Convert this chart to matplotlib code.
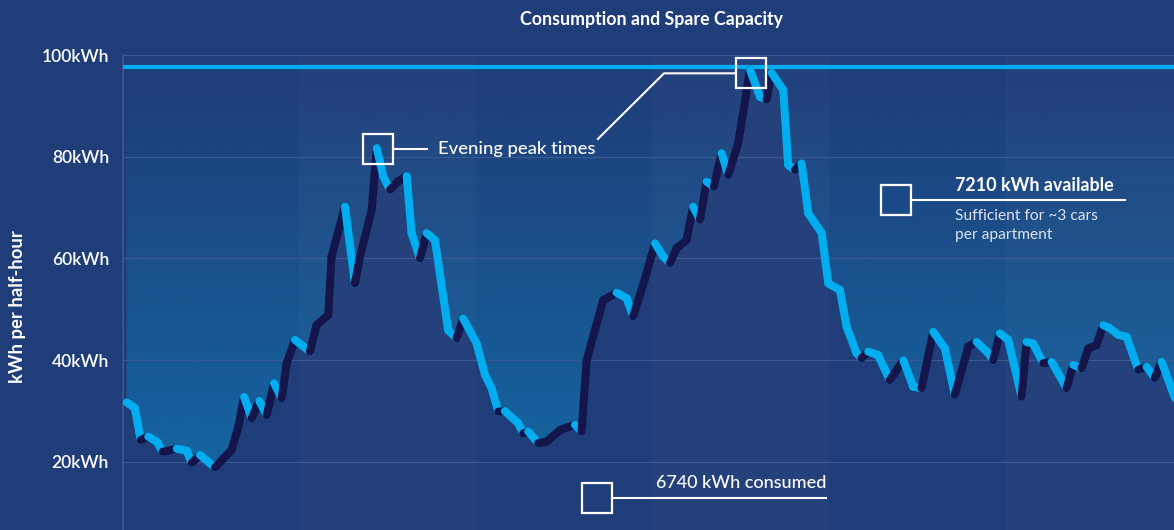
import numpy as np
import matplotlib.pyplot as plt
from matplotlib.patches import Rectangle
from matplotlib.colors import to_rgb

# half-hourly consumption trace, x in hours from start of the window
hours = [0.17, 0.54, 0.80, 1.15, 1.53, 1.80, 2.44, 2.89, 3.12, 3.49,
         4.17, 4.93, 5.23, 5.49, 5.84, 6.18, 6.52, 6.85, 7.20, 7.42,
         7.80, 8.48, 8.78, 9.31, 9.46, 10.07, 10.52, 10.75, 11.28, 11.51,
         11.81, 12.11, 12.49, 12.87, 13.09, 13.47, 13.77, 14.15, 14.75, 15.13,
         15.43, 16.04, 16.42, 16.72, 17.02, 17.32, 17.93, 18.15, 18.38, 18.83,
         19.22, 19.82, 20.50, 20.80, 21.03, 21.78, 22.39, 22.84, 23.14, 23.75,
         24.13, 24.50, 24.81, 25.11, 25.56, 25.86, 26.17, 26.47, 26.80, 27.15,
         27.45, 27.90, 28.44, 28.89, 29.19, 29.42, 29.95, 30.17, 30.48, 30.78,
         31.08, 31.69, 31.99, 32.52, 32.82, 33.27, 33.50, 33.80, 34.25, 34.78,
         35.39, 35.84, 36.22, 36.75, 37.28, 37.73, 38.34, 38.72, 39.24, 39.47,
         39.77, 40.15, 40.76, 40.98, 41.28, 41.74, 42.12, 42.80, 43.10, 43.48,
         43.78, 44.16, 44.46, 44.76, 45.14, 45.52, 46.05, 46.43, 46.80, 47.11,
         47.71]
kwh = [31.7, 30.6, 24.3, 25.0, 24.0, 22.0, 22.6, 22.2, 19.8, 21.4,
       18.9, 22.4, 26.9, 32.8, 28.6, 32.0, 29.2, 35.5, 32.5, 39.4,
       44.0, 41.7, 46.9, 48.9, 60.4, 70.2, 55.1, 60.4, 69.5, 81.7,
       76.1, 73.5, 75.2, 76.2, 65.0, 60.0, 65.0, 63.6, 45.9, 44.3,
       48.2, 43.3, 37.1, 34.5, 29.9, 30.0, 27.6, 25.6, 26.0, 23.7,
       24.0, 26.3, 27.3, 26.0, 40.0, 51.8, 53.3, 52.2, 48.6, 57.1,
       63.0, 60.4, 59.1, 62.0, 63.6, 70.2, 67.6, 75.1, 74.1, 80.7,
       76.4, 82.6, 97.1, 91.8, 91.2, 96.5, 93.1, 78.4, 77.4, 78.7,
       68.9, 65.0, 55.1, 53.8, 46.6, 41.4, 40.4, 41.7, 41.0, 36.1,
       40.0, 34.8, 34.5, 45.6, 42.3, 33.2, 42.7, 43.6, 41.4, 40.0,
       45.3, 44.0, 32.8, 43.6, 43.3, 39.4, 39.7, 34.5, 39.1, 38.4,
       42.3, 43.0, 46.9, 46.3, 45.0, 44.6, 38.1, 38.7, 36.5, 39.7,
       32.6]
capacity = 97.6
y_ticks = [20, 40, 60, 80, 100]
y_labels = ['20kWh', '40kWh', '60kWh', '80kWh', '100kWh']
band_edges = [0, 8, 16, 24, 32, 40, 48]

BG = '#1f3d79'
UP = '#14154a'
DOWN = '#00aeef'
GRID = '#3a5891'
FONT = 'Lato'

plt.rcParams['font.family'] = [FONT, 'DejaVu Sans']

fig = plt.figure(figsize=(11.74, 5.30), dpi=100, facecolor=BG)
ax = fig.add_axes([123 / 1174, 0, 1051 / 1174, 475 / 530])
ax.set_facecolor(BG)

xmax = 47.67
ymin = 6.63

# alternating shaded bands
for i, (a, b) in enumerate(zip(band_edges[:-1], band_edges[1:])):
    if i % 2 == 1:
        ax.axvspan(a, b, color='white', alpha=0.025, lw=0, zorder=2)

# spare capacity gradient between curve and capacity line
poly = ax.fill_between(hours, kwh, capacity, color='none', lw=0)
grad = np.zeros((256, 1, 4))
grad[..., :3] = to_rgb('#1468a3')
grad[:, 0, 3] = np.linspace(0.0, 0.95, 256)
img = ax.imshow(grad, extent=(0, 48, 18, capacity), aspect='auto',
                origin='upper', zorder=1)
img.set_clip_path(poly.get_paths()[0], transform=ax.transData)

ax.axhline(capacity, color=DOWN, lw=3, zorder=3)

# consumption line: rising segments dark, falling segments light
for i in range(len(hours) - 1):
    c = UP if kwh[i + 1] > kwh[i] else DOWN
    ax.plot(hours[i:i + 2], kwh[i:i + 2], color=c, lw=5.8,
            solid_capstyle='round', zorder=4)

ax.set_xlim(0, xmax)
ax.set_ylim(ymin, 100)
ax.set_xticks([])
ax.set_yticks(y_ticks)
ax.set_yticklabels(y_labels)
ax.tick_params(axis='y', length=0, pad=10, labelsize=12.5, labelcolor='white')
for lab in ax.get_yticklabels():
    lab.set_fontweight('semibold')
ax.yaxis.grid(True, color=GRID, lw=0.9, zorder=2.5)
ax.set_axisbelow(False)
for s in ['top', 'right', 'bottom']:
    ax.spines[s].set_visible(False)
ax.spines['left'].set_color(GRID)
ax.spines['left'].set_linewidth(1.2)

bw, bh = 1.36, 5.9


def box(cx, cy):
    ax.add_patch(Rectangle((cx - bw / 2, cy - bh / 2), bw, bh, fill=False,
                           ec='white', lw=1.6, zorder=6))


# evening peaks
box(11.56, 81.5)
box(28.48, 96.4)
ax.plot([11.56 + bw / 2, 13.79], [81.5, 81.5], color='white', lw=1.5, zorder=6)
ax.plot([21.54, 24.54, 28.48 - bw / 2], [83.5, 96.4, 96.4], color='white',
        lw=1.5, zorder=6)
ax.text(14.29, 81.5, 'Evening peak times', color='white', fontsize=13.3,
        fontweight='medium', ha='left', va='center', zorder=6)

# spare capacity
box(35.07, 71.5)
ax.plot([35.07 + bw / 2, 45.44], [71.5, 71.5], color='white', lw=1.5, zorder=6)
ax.text(37.73, 74.4, '7210 kWh available', color='white', fontsize=12.9,
        fontweight='bold', ha='left', va='center', zorder=6)
ax.text(37.73, 68.4, 'Sufficient for ~3 cars', color='#dce3ef', fontsize=11.2,
        ha='left', va='center', zorder=6)
ax.text(37.73, 64.6, 'per apartment', color='#dce3ef', fontsize=11.2,
        ha='left', va='center', zorder=6)

# consumed
box(21.5, 12.9)
ax.plot([21.5 + bw / 2, 31.88], [12.9, 12.9], color='white', lw=1.5, zorder=6)
ax.text(24.16, 15.9, '6740 kWh consumed', color='white', fontsize=13,
        fontweight='medium', ha='left', va='center', zorder=6)

fig.text(651 / 1174, 1 - 20 / 530, 'Consumption and Spare Capacity',
         color='white', fontsize=12.8, fontweight='bold', ha='center', va='center')
fig.text(18 / 1174, 1 - 307 / 530, 'kWh per half-hour', color='white',
         fontsize=13.3, fontweight='bold', rotation=90, ha='center', va='center')

fig.savefig('out.png', dpi=100, facecolor=BG)
